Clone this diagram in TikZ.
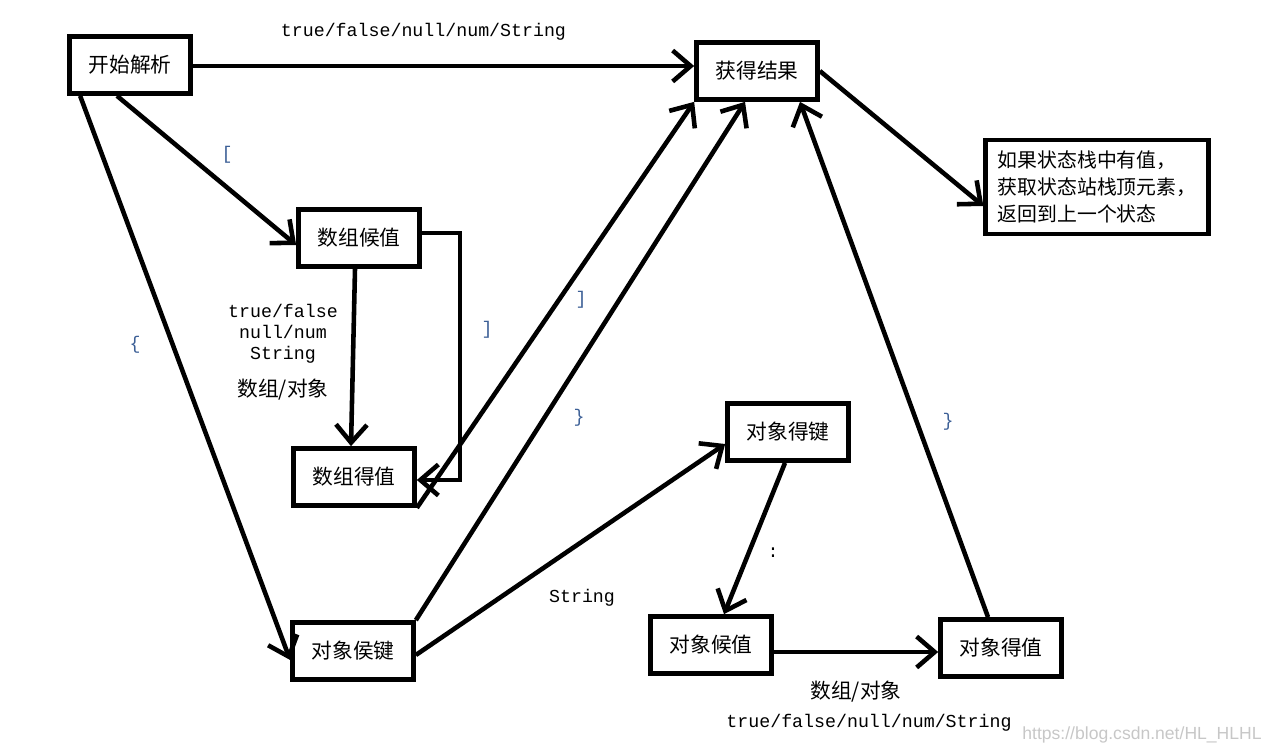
\documentclass[tikz,border=0pt]{standalone}
\usepackage{fontspec}
\setmonofont{Liberation Mono}
\newfontfamily\cjk{Noto Sans CJK SC}
\newfontfamily\wmfont{Liberation Sans}
\usetikzlibrary{arrows.meta}
\usetikzlibrary{calc}
\definecolor{bracecol}{RGB}{60,95,150}

\begin{document}
\begin{tikzpicture}[x=0.02cm,y=-0.02cm,
    state/.style={draw, line width=2.7pt, minimum width=2.42cm, minimum height=1.14cm,
      font=\cjk\fontsize{11.8pt}{14pt}\selectfont},
    conn/.style={line width=2.6pt, -{Straight Barb[length=0.36cm,width=0.62cm]}},
    lbl/.style={font=\ttfamily\fontsize{10.4pt}{12pt}\selectfont},
    cjklbl/.style={font=\cjk\fontsize{11.8pt}{14pt}\selectfont},
    brace/.style={lbl, text=bracecol}]
\useasboundingbox (0,0) rectangle (1266,753);

% states
\node[state] (start) at (130,65) {开始解析};
\node[state] (result) at (757,71) {获得结果};
\node[state, align=left, minimum width=4.2cm, minimum height=1.88cm, inner xsep=0.24cm,
  font=\cjk\fontsize{11.3pt}{15.3pt}\selectfont] (note) at (1097,187)
  {如果状态栈中有值，\\获取状态站栈顶元素，\\返回到上一个状态};
\node[state] (arrcand) at (359,238) {数组候值};
\node[state] (arrgot) at (354,477) {数组得值};
\node[state] (keycand) at (353,651) {对象侯键};
\node[state] (keygot) at (788,432) {对象得键};
\node[state] (valcand) at (711,645) {对象候值};
\node[state] (valgot) at (1001,648) {对象得值};

% transitions
\draw[conn] ([yshift=-0.02cm]start.east) -- ([yshift=-0.02cm]start.east -| result.west)
  node[lbl, pos=0.46, above=0.35cm] (lbltop) {true/false/null/num/String};
\draw[conn] ([xshift=-0.26cm]start.south) -- ([yshift=-0.14cm]arrcand.west);
\node[brace] (lblarr) at (227,155) {[};
\draw[conn] ([xshift=0.26cm]start.south west) -- ([yshift=-0.18cm]keycand.west);
\node[brace] (lblobj) at (135,345) {\{};

\draw[conn] ([xshift=-0.08cm]arrcand.south) -- ([xshift=-0.06cm]arrgot.north);
\node[lbl, align=center] (lblarrval) at (283,334) {true/false\\null/num\\String};
\node[cjklbl] (lblarrobj) at (283,390) {数组/对象};
\draw[conn] ([yshift=0.1cm]arrcand.east) -- ++(0.76cm,0) coordinate (arrturn)
  |- ([yshift=-0.06cm]arrgot.east);
\node[brace] (lblarrend) at (487,330) {]};

\draw[conn] (arrgot.south east) -- (result.south west);
\node[brace] (lblarrres) at (581,300) {]};
\draw[conn] (keycand.north east) -- ([xshift=-0.24cm]result.south);
\node[brace] (lblobjres) at (579,418) {\}};

\draw[conn] ([yshift=-0.08cm]keycand.east) -- ([yshift=-0.24cm]keygot.west);
\node[lbl] (lblkey) at (582,598) {String};
\draw[conn] ([xshift=-0.06cm]keygot.south) -- ([xshift=0.26cm]valcand.north);
\node[lbl] (lblcolon) at (773,553) {:};
\draw[conn] ([yshift=-0.14cm]valcand.east) -- ([yshift=-0.14cm]valcand.east -| valgot.west);
\node[cjklbl] (lblvalobj) at (856,692) {数组/对象};
\node[lbl] (lblvalval) at (869,723) {true/false/null/num/String};

\draw[conn] ([xshift=-0.26cm]valgot.north) -- ([xshift=0.86cm]result.south);
\node[brace] (lblvalres) at (948,422) {\}};
\draw[conn] (result.east) -- ([yshift=-0.38cm]note.west);

% watermark
\node[font=\wmfont\fontsize{10pt}{12pt}\selectfont, text=black!22, anchor=east, inner sep=0pt] (wm)
  at (1262,735) {https://blog.csdn.net/HL\_HLHL};
\end{tikzpicture}
\end{document}
